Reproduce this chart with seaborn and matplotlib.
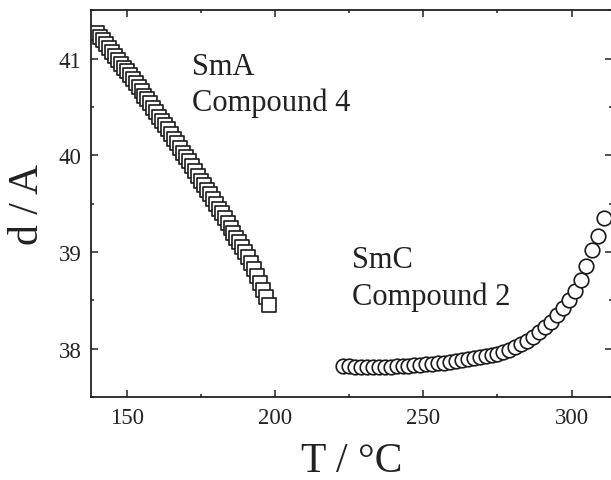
"""
Layer spacing d versus temperature for compounds 4 (SmA) and 2 (SmC).

Writes out.png (611 x 481 px).
"""
import matplotlib

matplotlib.use("Agg")
import matplotlib.pyplot as plt
import pandas as pd
import seaborn as sns
from matplotlib.ticker import MultipleLocator

# ---- Data ----------------------------------------------------------------- #
sma_temp = list(range(140, 199))
sma_d = [
    41.27, 41.23, 41.19, 41.15, 41.11, 41.07, 41.03, 40.99, 40.95, 40.91,
    40.87, 40.83, 40.79, 40.75, 40.71, 40.67, 40.62, 40.58, 40.54, 40.49,
    40.45, 40.40, 40.36, 40.31, 40.27, 40.22, 40.17, 40.13, 40.08, 40.03,
    39.98, 39.94, 39.89, 39.84, 39.79, 39.74, 39.69, 39.64, 39.60, 39.55,
    39.50, 39.45, 39.40, 39.35, 39.30, 39.25, 39.20, 39.15, 39.10, 39.05,
    39.00, 38.95, 38.89, 38.82, 38.75, 38.68, 38.61, 38.53, 38.45,
]

smc_temp = list(range(223, 312, 2))
smc_d = [
    37.82, 37.82, 37.81, 37.81, 37.81, 37.81, 37.81, 37.81, 37.81, 37.82,
    37.82, 37.82, 37.83, 37.83, 37.84, 37.84, 37.85, 37.85, 37.86, 37.87,
    37.88, 37.89, 37.90, 37.91, 37.92, 37.93, 37.95, 37.97, 37.99, 38.02,
    38.05, 38.08, 38.12, 38.17, 38.22, 38.28, 38.35, 38.42, 38.50, 38.60,
    38.71, 38.86, 39.02, 39.17, 39.35,
]

x_ticks = [150, 200, 250, 300]
y_ticks = [38, 39, 40, 41]

sns.set_style("ticks")
plt.rcParams["font.family"] = ["Liberation Serif", "DejaVu Serif"]

fig = plt.figure(figsize=(6.11, 4.81), dpi=100)
ax = fig.add_axes([0.1489, 0.1726, 0.8527, 0.8035])

sma = pd.DataFrame({"T": sma_temp, "d": sma_d})
smc = pd.DataFrame({"T": smc_temp, "d": smc_d})

sns.scatterplot(data=sma, x="T", y="d", marker="s", s=96, facecolor="white",
                edgecolor="#1a1a1a", linewidth=1.2, ax=ax)
sns.scatterplot(data=smc, x="T", y="d", marker="o", s=110, facecolor="white",
                edgecolor="#1a1a1a", linewidth=1.2, ax=ax)

ax.set_xlim(137.96, 313.6)
ax.set_ylim(37.5, 41.5)
ax.set_xticks(x_ticks)
ax.set_yticks(y_ticks)
ax.xaxis.set_minor_locator(MultipleLocator(25))
ax.yaxis.set_minor_locator(MultipleLocator(0.5))

ax.tick_params(which="both", direction="in", top=True, right=True,
               width=1.1, color="#222222", labelsize=16.5, labelcolor="#222222")
ax.tick_params(which="major", length=5)
ax.tick_params(which="minor", length=2.5)
ax.tick_params(axis="x", pad=7)
ax.tick_params(axis="y", pad=7)
for spine in ax.spines.values():
    spine.set_linewidth(1.3)
    spine.set_color("#222222")

ax.set_xlabel("T / °C", fontsize=30, color="#222222", labelpad=10)
ax.set_ylabel("d / A", fontsize=30, color="#222222", labelpad=8)

ax.text(172.0, 40.84, "SmA", fontsize=22, color="#222222", va="baseline")
ax.text(172.0, 40.47, "Compound 4", fontsize=22, color="#222222", va="baseline")
ax.text(226.0, 38.85, "SmC", fontsize=22, color="#222222", va="baseline")
ax.text(226.0, 38.46, "Compound 2", fontsize=22, color="#222222", va="baseline")

fig.savefig("out.png", dpi=100)
plt.close(fig)
